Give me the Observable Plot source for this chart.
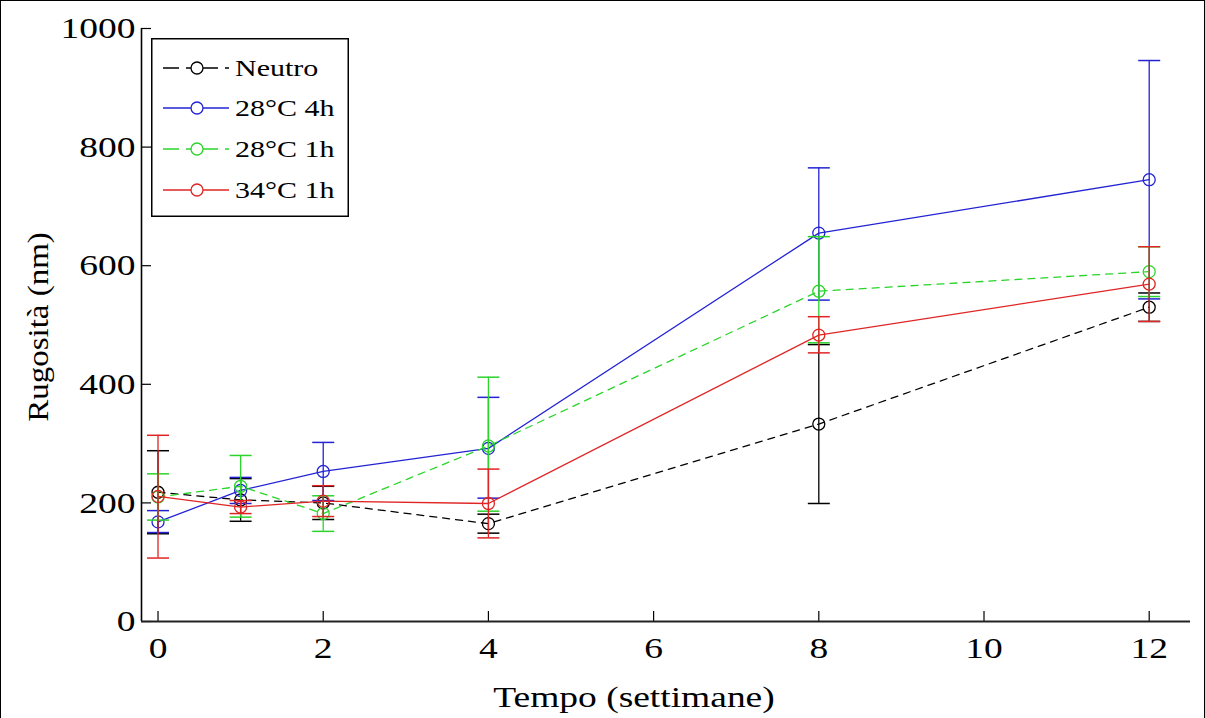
<!DOCTYPE html>
<html><head><meta charset="utf-8">
<script src="https://cdn.jsdelivr.net/npm/d3@7"></script>
<script src="https://cdn.jsdelivr.net/npm/@observablehq/plot@0.6"></script>
<style>
body{margin:0;background:#fff}
#wrap{position:relative;width:1205px;height:718px;overflow:hidden;background:#fff}
#border{position:absolute;left:0;top:0;width:1205px;height:718px;box-sizing:border-box;border:1.5px solid #000;border-bottom:none;pointer-events:none}
#legend{position:absolute;left:151px;top:38px}
</style></head><body><div id="wrap"><div id="border"></div></div>
<script>
// ---- data ----
const weeks = [0, 1, 2, 4, 8, 12];
const seriesNames = ["Neutro", "28°C 4h", "28°C 1h", "34°C 1h"];
const seriesColors = ["#000000", "#2323d4", "#2bd42b", "#e02525"];
const seriesDash = ["7,6", null, "7,6", null];

const neutroMean = [218, 205, 200, 165, 333, 530];
const neutroHigh = [288, 241, 228, 181, 467, 554];
const neutroLow  = [148, 169, 172, 149, 199, 506];

const c28h4Mean = [168, 221, 253, 292, 655, 745];
const c28h4High = [187, 243, 302, 378, 765, 946];
const c28h4Low  = [150, 199, 204, 208, 542, 544];

const c28h1Mean = [210, 228, 182, 296, 557, 590];
const c28h1High = [249, 280, 212, 412, 649, 632];
const c28h1Low  = [171, 176, 152, 186, 470, 548];

const c34h1Mean = [211, 193, 203, 199, 483, 569];
const c34h1High = [314, 204, 229, 257, 514, 632];
const c34h1Low  = [107, 182, 177, 141, 453, 506];

const xTicks = [0, 2, 4, 6, 8, 10, 12];
const yTicks = [0, 200, 400, 600, 800, 1000];
const xLabel = "Tempo (settimane)";
const yLabel = "Rugosità (nm)";

// ---- build table ----
const means = [neutroMean, c28h4Mean, c28h1Mean, c34h1Mean];
const highs = [neutroHigh, c28h4High, c28h1High, c34h1High];
const lows  = [neutroLow,  c28h4Low,  c28h1Low,  c34h1Low];
const tables = seriesNames.map((name, s) =>
  weeks.map((w, i) => ({series: name, week: w, mean: means[s][i], hi: highs[s][i], lo: lows[s][i]})));

const capSymbol = {draw(ctx, size) { const w = Math.sqrt(size / Math.PI); ctx.moveTo(-w, 0); ctx.lineTo(w, 0); }};

const W = 1205, H = 718, mL = 141, mR = 15, mT = 28, mB = 97;
const font = "'Liberation Serif', 'Times New Roman', serif";
const stretch = 1.25;

const seriesMarks = tables.flatMap((t, s) => [
  Plot.ruleX(t, {x: "week", y1: "lo", y2: "hi", stroke: seriesColors[s], strokeWidth: 1.3}),
  Plot.dot(t, {x: "week", y: "hi", symbol: capSymbol, r: 11, stroke: seriesColors[s], fill: "none", strokeWidth: 1.5}),
  Plot.dot(t, {x: "week", y: "lo", symbol: capSymbol, r: 11, stroke: seriesColors[s], fill: "none", strokeWidth: 1.5}),
  Plot.line(t, {x: "week", y: "mean", stroke: seriesColors[s], strokeWidth: 1.3, strokeDasharray: seriesDash[s]}),
  Plot.dot(t, {x: "week", y: "mean", r: 6, stroke: seriesColors[s], fill: "none", strokeWidth: 1.3})
]);

const chart = Plot.plot({
  width: W, height: H, marginLeft: mL, marginRight: mR, marginTop: mT, marginBottom: mB,
  style: {fontFamily: font, fontSize: "30px", color: "#000", background: "transparent"},
  x: {domain: [-0.2, 12.5]},
  y: {domain: [0, 1000]},
  marks: [
    Plot.axisX({ticks: xTicks, tickSize: 0, tickPadding: 15, label: null, fontSize: 30, tickFormat: d => String(d)}),
    Plot.axisY({ticks: yTicks, tickSize: 0, tickPadding: 6, label: null, fontSize: 30, tickFormat: d => String(d)}),
    Plot.tickX(xTicks, {x: d => d, insetTop: H - mT - mB - 10, stroke: "#000", strokeWidth: 1.2}),
    Plot.tickY(yTicks, {y: d => d, insetRight: W - mL - mR - 10, stroke: "#000", strokeWidth: 1.2}),
    Plot.ruleX([-0.2], {stroke: "#000", strokeWidth: 1.6}),
    Plot.ruleY([0], {stroke: "#222", strokeWidth: 2.2}),
    ...seriesMarks,
    Plot.text([xLabel], {frameAnchor: "bottom", textAnchor: "middle", lineAnchor: "middle", dx: -32, dy: 76, text: d => d, fontSize: 30, fill: "#000"}),
    Plot.text([yLabel], {frameAnchor: "left", textAnchor: "middle", lineAnchor: "middle", dx: -103, dy: 2, rotate: -90, text: d => d, fontSize: 30, fill: "#000", className: "ylab"})
  ]
});
document.getElementById("wrap").appendChild(chart);

// stretch text horizontally like the reference's widened serif glyphs
d3.select(chart).selectAll("text").each(function() {
  const t = this.getAttribute("transform") || "";
  const isY = this.closest(".ylab") != null;
  this.setAttribute("transform", t + ` scale(${isY ? 1.1 : stretch},1)`);
});

// ---- legend ----
const lg = d3.select("#wrap").append("svg").attr("id", "legend")
  .attr("width", 198).attr("height", 179);
lg.append("rect").attr("x", 0.75).attr("y", 0.75).attr("width", 196.5).attr("height", 177.5)
  .attr("fill", "#fff").attr("stroke", "#000").attr("stroke-width", 1.5);
const rowY = [30, 70, 111, 152];
seriesNames.forEach((name, s) => {
  const g = lg.append("g").attr("transform", `translate(0,${rowY[s]})`);
  g.append("line").attr("x1", 12).attr("x2", 78).attr("y1", 0).attr("y2", 0)
    .attr("stroke", seriesColors[s]).attr("stroke-width", 1.3)
    .attr("stroke-dasharray", seriesDash[s] ? "16,7,10,6" : null);
  g.append("circle").attr("cx", 46).attr("cy", 0).attr("r", 6)
    .attr("fill", "#fff").attr("stroke", seriesColors[s]).attr("stroke-width", 1.3);
  g.append("text").attr("transform", `translate(84,0) scale(${stretch},1)`).attr("dy", "0.35em")
    .attr("font-family", font).attr("font-size", 24).attr("fill", "#000").text(name);
});
</script></body></html>
